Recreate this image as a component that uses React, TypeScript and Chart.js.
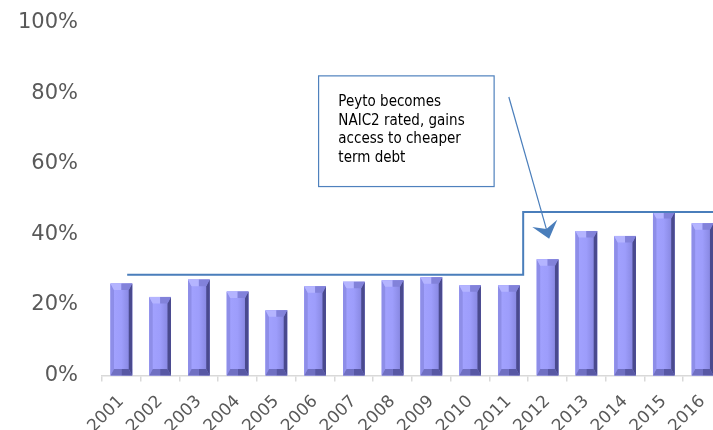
import React, { useEffect, useRef } from 'react';
import { Chart, registerables } from 'chart.js';

Chart.register(...registerables);

// ---- data ----
const years = ['2001', '2002', '2003', '2004', '2005', '2006', '2007', '2008', '2009', '2010', '2011', '2012', '2013', '2014', '2015', '2016'];
const ratios = [26.1, 22.3, 27.2, 23.8, 18.5, 25.3, 26.6, 27.0, 27.9, 25.6, 25.6, 33.0, 41.0, 39.6, 46.4, 43.2];
const yTickValues = [0, 20, 40, 60, 80, 100];

// step reference line (category index / percent)
const stepLevels = [28.6, 46.4];
const stepIndices = [0.15, 10.37, 16.5];

// callout
const calloutLines = ['Peyto becomes', 'NAIC2 rated, gains', 'access to cheaper', 'term debt'];
const calloutBox = { x0: 5.09, x1: 9.62, yTop: 85.0, yBottom: 53.6 };
const calloutTextAt = { x: 5.6, y: 79.6 };
const arrowFrom = { x: 10.0, y: 79.0 };
const arrowTo = { x: 11.04, y: 38.8 };

const BLUE = '#4a7ebb';

const bevelPlugin = {
  id: 'bevelBars',
  afterDatasetsDraw(chart: any) {
    const ctx = chart.ctx;
    const meta = chart.getDatasetMeta(0);
    ctx.save();
    meta.data.forEach((bar: any) => {
      const p = bar.getProps(['x', 'y', 'base', 'width'], true);
      const L = p.x - p.width / 2;
      const R = p.x + p.width / 2;
      const T = p.y;
      const B = p.base;
      const b = Math.min(p.width * 0.3, (B - T) / 2);
      const s = Math.min(p.width * 0.16, (B - T) / 2);
      // face
      const g = ctx.createLinearGradient(L, 0, R, 0);
      g.addColorStop(0, '#a3a3ff');
      g.addColorStop(0.5, '#9d9dfb');
      g.addColorStop(1, '#8080d8');
      ctx.fillStyle = g;
      ctx.fillRect(L, T, R - L, B - T);
      const poly = (pts: number[][], color: any) => {
        ctx.beginPath();
        ctx.moveTo(pts[0][0], pts[0][1]);
        for (let i = 1; i < pts.length; i++) ctx.lineTo(pts[i][0], pts[i][1]);
        ctx.closePath();
        ctx.fillStyle = color;
        ctx.fill();
      };
      // left & right side strips
      poly([[L, T], [L + s, T + b], [L + s, B - b], [L, B]], '#8e8ee8');
      poly([[R, T], [R - s, T + b], [R - s, B - b], [R, B]], '#4a4a8e');
      // top bevel (V shape)
      const mid = (L + R) / 2;
      poly([[L, T], [mid, T], [mid, T + b], [L + s, T + b]], '#b4b4ff');
      poly([[mid, T], [R, T], [R - s, T + b], [mid, T + b]], '#8282da');
      // bottom bevel
      poly([[L, B], [mid, B], [mid, B - b], [L + s, B - b]], '#7070c2');
      poly([[mid, B], [R, B], [R - s, B - b], [mid, B - b]], '#5858a4');
    });
    ctx.restore();
  },
};

const annotationPlugin = {
  id: 'annotations',
  afterDraw(chart: any) {
    const ctx = chart.ctx;
    const xs = chart.scales.x;
    const ys = chart.scales.y;
    const X = (v: number) => xs.getPixelForValue(v);
    const Y = (v: number) => ys.getPixelForValue(v);
    ctx.save();
    // step line
    ctx.strokeStyle = BLUE;
    ctx.lineWidth = 2;
    ctx.beginPath();
    ctx.moveTo(X(stepIndices[0]), Y(stepLevels[0]));
    ctx.lineTo(X(stepIndices[1]), Y(stepLevels[0]));
    ctx.lineTo(X(stepIndices[1]), Y(stepLevels[1]));
    ctx.lineTo(X(stepIndices[2]), Y(stepLevels[1]));
    ctx.stroke();

    // callout box
    const bx0 = X(calloutBox.x0), bx1 = X(calloutBox.x1);
    const by0 = Y(calloutBox.yTop), by1 = Y(calloutBox.yBottom);
    ctx.fillStyle = '#ffffff';
    ctx.fillRect(bx0, by0, bx1 - bx0, by1 - by0);
    ctx.strokeStyle = '#4f81bd';
    ctx.lineWidth = 1.2;
    ctx.strokeRect(bx0, by0, bx1 - bx0, by1 - by0);
    ctx.fillStyle = '#000000';
    ctx.font = '15px "DejaVu Sans Condensed", "DejaVu Sans"';
    ctx.textBaseline = 'top';
    ctx.textAlign = 'left';
    const tx = X(calloutTextAt.x);
    const ty = Y(calloutTextAt.y);
    calloutLines.forEach((line, i) => ctx.fillText(line, tx, ty + i * 18.5));

    // arrow
    const ax0 = X(arrowFrom.x), ay0 = Y(arrowFrom.y);
    const ax1 = X(arrowTo.x), ay1 = Y(arrowTo.y);
    const ang = Math.atan2(ay1 - ay0, ax1 - ax0);
    const headLen = 16;
    const notch = 10;
    const halfW = 13;
    const ux = Math.cos(ang), uy = Math.sin(ang);
    const px = -uy, py = ux;
    const baseX = ax1 - ux * headLen, baseY = ay1 - uy * headLen;
    const notchX = ax1 - ux * notch, notchY = ay1 - uy * notch;
    ctx.strokeStyle = BLUE;
    ctx.lineWidth = 1.2;
    ctx.beginPath();
    ctx.moveTo(ax0, ay0);
    ctx.lineTo(notchX, notchY);
    ctx.stroke();
    ctx.fillStyle = BLUE;
    ctx.beginPath();
    ctx.moveTo(ax1, ay1);
    ctx.lineTo(baseX + px * halfW, baseY + py * halfW);
    ctx.lineTo(notchX, notchY);
    ctx.lineTo(baseX - px * halfW, baseY - py * halfW);
    ctx.closePath();
    ctx.fill();
    ctx.restore();
  },
};

export default function App() {
  const ref = useRef<HTMLCanvasElement | null>(null);
  useEffect(() => {
    document.body.style.margin = '0';
    document.body.style.overflow = 'hidden';
    const canvas = ref.current!;
    const chart = new Chart(canvas, {
      type: 'bar',
      data: {
        labels: years,
        datasets: [
          {
            data: ratios,
            backgroundColor: '#9494ee',
            borderWidth: 0,
            barPercentage: 0.56,
            categoryPercentage: 1,
          },
        ],
      },
      options: {
        animation: false,
        responsive: false,
        layout: { padding: { top: 23, right: 0, left: 0, bottom: 0 } },
        plugins: { legend: { display: false }, tooltip: { enabled: false } },
        scales: {
          x: {
            offset: true,
            grid: {
              display: true,
              offset: true,
              drawOnChartArea: false,
              drawTicks: true,
              tickLength: 6,
              color: '#d9d9d9',
              lineWidth: 1.5,
            },
            border: { display: true, color: '#d9d9d9', width: 1.5 },
            ticks: {
              autoSkip: false,
              maxRotation: 45,
              minRotation: 45,
              padding: 10,
              color: '#595959',
              font: { family: 'DejaVu Sans', size: 17 },
            },
            afterFit(scale: any) {
              scale.height = 54.5;
            },
          },
          y: {
            min: 0,
            max: 100,
            afterBuildTicks(scale: any) {
              scale.ticks = yTickValues.map((v) => ({ value: v }));
            },
            grid: { display: false, drawTicks: false },
            border: { display: false },
            ticks: {
              padding: 24,
              color: '#595959',
              font: { family: 'DejaVu Sans', size: 21 },
              callback: (v: any) => v + '%',
            },
            afterFit(scale: any) {
              scale.width = 102;
              scale.paddingTop = 0;
              scale.paddingBottom = 0;
            },
          },
        },
      },
      plugins: [bevelPlugin, annotationPlugin],
    });
    return () => chart.destroy();
  }, []);
  return (
    <div style={{ width: 713, height: 430, overflow: 'hidden', position: 'relative' }}>
      <canvas ref={ref} width={727} height={430} style={{ display: 'block' }} />
    </div>
  );
}
